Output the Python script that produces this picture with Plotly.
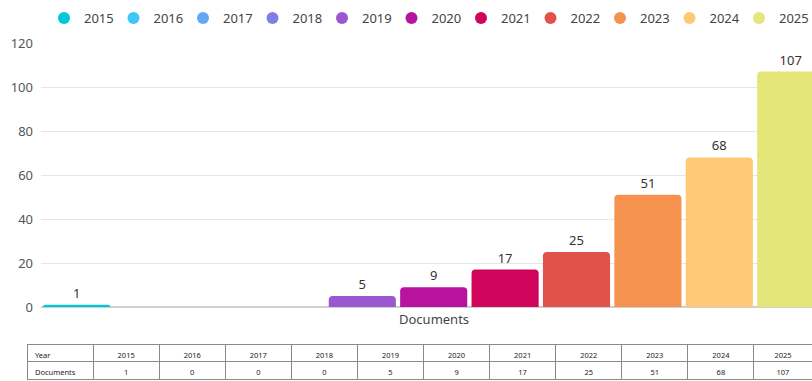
import plotly.graph_objects as go

years = ["2015", "2016", "2017", "2018", "2019", "2020", "2021", "2022", "2023", "2024", "2025"]
documents = [1, 0, 0, 0, 5, 9, 17, 25, 51, 68, 107]
colors = ["#00C8D7", "#3EC6F7", "#62A8F7", "#7E80E6", "#9B57CF", "#B8139F",
          "#D0045A", "#E0524A", "#F69250", "#FEC875", "#E4E67A"]
y_ticks = [0, 20, 40, 60, 80, 100, 120]
series_name = "Documents"
row_label = "Year"

W, H = 812, 381
FONT = "Noto Sans"

fig = go.Figure()

labels = [str(v) if v != 0 else "" for v in documents]
fig.add_trace(go.Bar(
    x=years, y=documents, marker=dict(color=colors, cornerradius=4, line=dict(width=0)),
    text=labels, textposition="outside", cliponaxis=False,
    textfont=dict(size=13, color="#333333", family=FONT),
    showlegend=False, hoverinfo="x+y",
))

for yr, c in zip(years, colors):
    fig.add_trace(go.Scatter(
        x=[None], y=[None], mode="markers", name=yr,
        marker=dict(symbol="circle", size=13, color=c),
        showlegend=True,
    ))

# table
fig.add_trace(go.Table(
    domain=dict(x=[27 / W, 1], y=[0, (H - 344) / (H - 43)]),
    columnwidth=[66] * 11 + [58],
    header=dict(values=[row_label] + years, height=17,
                align=["left"] + ["center"] * 11,
                fill_color="white", line=dict(color="#8a8a8a", width=1),
                font=dict(size=7.5, color="#222222", family=FONT)),
    cells=dict(values=[[series_name]] + [[str(v)] for v in documents], height=18,
               align=["left"] + ["center"] * 11,
               fill_color="white", line=dict(color="#8a8a8a", width=1),
               font=dict(size=7.5, color="#222222", family=FONT)),
))

plot_h = H - 43
fig.update_layout(
    width=W, height=H,
    margin=dict(l=0, r=0, t=43, b=0, pad=0, autoexpand=False),
    paper_bgcolor="white", plot_bgcolor="white",
    font=dict(family=FONT, size=13, color="#555555"),
    bargap=0.06,
    xaxis=dict(domain=[41 / W, 1], range=[-0.5, -0.5 + (W - 41) / 71.4],
               showticklabels=False, showgrid=False, zeroline=False,
               showline=False, ticks="", fixedrange=True),
    yaxis=dict(domain=[(H - 307) / plot_h, 1], range=[0, 120], tickvals=y_ticks,
               showgrid=True, gridcolor="#e6e6e6", gridwidth=1,
               zeroline=True, zerolinecolor="#cfcfcf", zerolinewidth=2,
               ticks="", ticklabelstandoff=7,
               tickfont=dict(size=13, color="#555555", family=FONT)),
    legend=dict(orientation="h", xref="container", yref="container",
                x=44 / W, xanchor="left", y=1 - 18 / H, yanchor="middle",
                entrywidth=24.5, entrywidthmode="pixels",
                font=dict(size=13, color="#444444", family=FONT),
                itemsizing="constant", bgcolor="rgba(0,0,0,0)", tracegroupgap=0),
    annotations=[dict(x=(len(years) - 1) / 2, xref="x", y=(H - 319) / plot_h, yref="paper",
                      text=series_name, showarrow=False, yanchor="middle",
                      font=dict(size=13, color="#444444", family=FONT))],
)

fig.write_html("out.html")
